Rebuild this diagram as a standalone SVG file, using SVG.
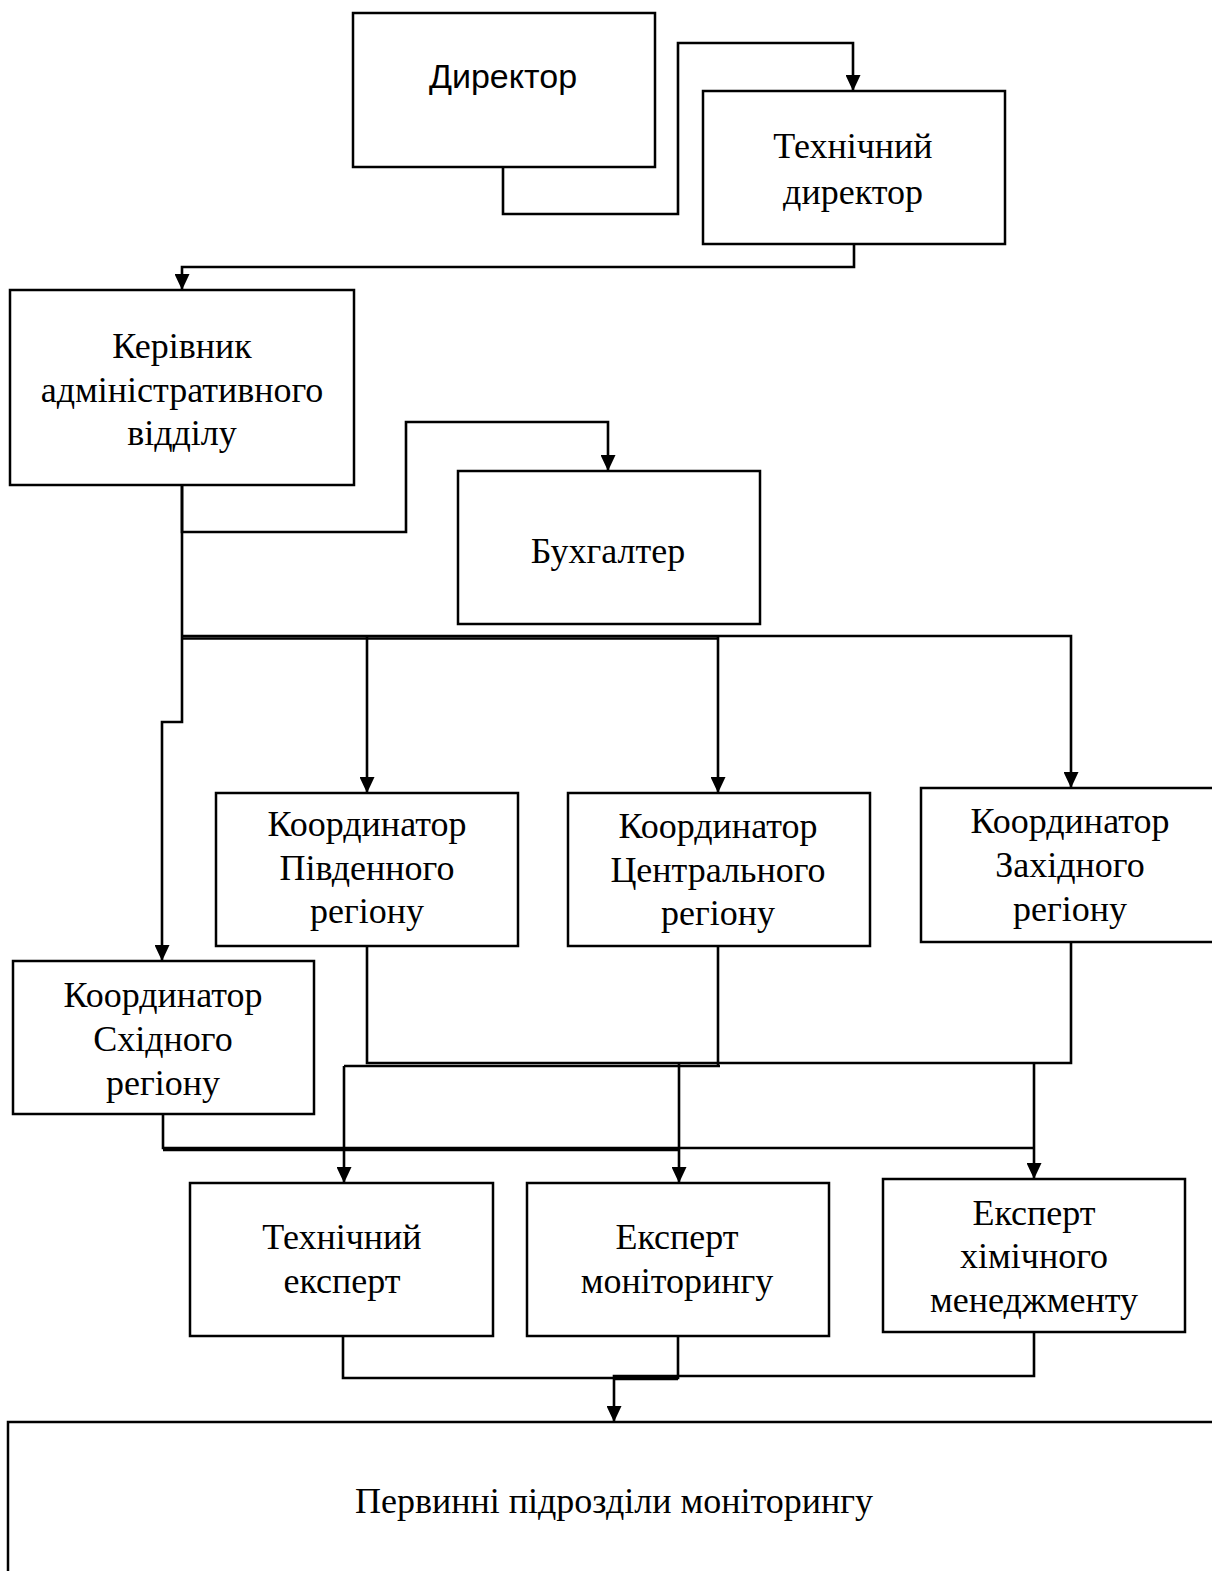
<svg xmlns="http://www.w3.org/2000/svg" width="1212" height="1571" viewBox="0 0 1212 1571">
<style>
.box{fill:#fff;stroke:#000;stroke-width:2.5}
.t{font-family:"Liberation Serif","Times New Roman",serif;font-size:36px;fill:#000;text-anchor:middle}
.s{font-family:"Liberation Sans",Arial,sans-serif;font-size:34px;fill:#000;text-anchor:middle}
.c{fill:none;stroke:#000;stroke-width:2.6}
.a{marker-end:url(#arr)}
</style>
<defs>
<marker id="arr" markerUnits="userSpaceOnUse" markerWidth="16" markerHeight="15" refX="16" refY="7.5" orient="auto" viewBox="0 0 16 15">
<path d="M0,0 L16,7.5 L0,15 Z" fill="#000"/>
</marker>
</defs>
<rect width="1212" height="1571" fill="#fff"/>
<g id="connectors">
<path class="c a" d="M503,167 V214 H678 V43 H853 V91"/>
<path class="c a" d="M854,244 V267 H182 V290"/>
<path class="c a" d="M182,485 V532 H406 V422 H608 V471"/>
<path class="c a" d="M182,485 V722 H162 V961"/>
<path class="c a" d="M182,636 H1071 V788"/>
<path class="c" d="M182,638.5 H718"/>
<path class="c a" d="M367,636 V793"/>
<path class="c a" d="M718,636 V793"/>
<path class="c" d="M367,946 V1063 H1071 V942"/>
<path class="c" d="M718,946 V1065"/>
<path class="c" d="M344,1066 H720"/>
<path class="c a" d="M344,1066 V1183"/>
<path class="c a" d="M679,1064 V1183"/>
<path class="c a" d="M1034,1063 V1179"/>
<path class="c" d="M163,1114 V1148 H1034"/>
<path class="c" d="M163,1150 H679"/>
<path class="c" d="M343,1336 V1378 H678 V1336"/>
<path class="c a" d="M1034,1332 V1376 H614 V1422"/>
<path class="c" d="M614,1379 H678"/>
</g>
<g id="director"><rect class="box" x="353" y="13" width="302" height="154"/><text class="s" x="503" y="88">Директор</text></g>
<g id="tech-director"><rect class="box" x="703" y="91" width="302" height="153"/><text class="t" x="853" y="158">Технічний</text><text class="t" x="853" y="204">директор</text></g>
<g id="admin-head"><rect class="box" x="10" y="290" width="344" height="195"/><text class="t" x="182" y="358">Керівник</text><text class="t" x="182" y="402">адміністративного</text><text class="t" x="182" y="445">відділу</text></g>
<g id="accountant"><rect class="box" x="458" y="471" width="302" height="153"/><text class="t" x="608" y="563">Бухгалтер</text></g>
<g id="coord-south"><rect class="box" x="216" y="793" width="302" height="153"/><text class="t" x="367" y="836">Координатор</text><text class="t" x="367" y="880">Південного</text><text class="t" x="367" y="923">регіону</text></g>
<g id="coord-central"><rect class="box" x="568" y="793" width="302" height="153"/><text class="t" x="718" y="838">Координатор</text><text class="t" x="718" y="882">Центрального</text><text class="t" x="718" y="925">регіону</text></g>
<g id="coord-west"><rect class="box" x="921" y="788" width="330" height="154"/><text class="t" x="1070" y="833">Координатор</text><text class="t" x="1070" y="877">Західного</text><text class="t" x="1070" y="921">регіону</text></g>
<g id="coord-east"><rect class="box" x="13" y="961" width="301" height="153"/><text class="t" x="163" y="1007">Координатор</text><text class="t" x="163" y="1051">Східного</text><text class="t" x="163" y="1095">регіону</text></g>
<g id="tech-expert"><rect class="box" x="190" y="1183" width="303" height="153"/><text class="t" x="342" y="1249">Технічний</text><text class="t" x="342" y="1293">експерт</text></g>
<g id="monitoring-expert"><rect class="box" x="527" y="1183" width="302" height="153"/><text class="t" x="677" y="1249">Експерт</text><text class="t" x="677" y="1293">моніторингу</text></g>
<g id="chem-expert"><rect class="box" x="883" y="1179" width="302" height="153"/><text class="t" x="1034" y="1225">Експерт</text><text class="t" x="1034" y="1268">хімічного</text><text class="t" x="1034" y="1312">менеджменту</text></g>
<g id="primary-units"><rect class="box" x="8" y="1422" width="1230" height="200"/><text class="t" x="614" y="1513">Первинні підрозділи моніторингу</text></g>
</svg>
